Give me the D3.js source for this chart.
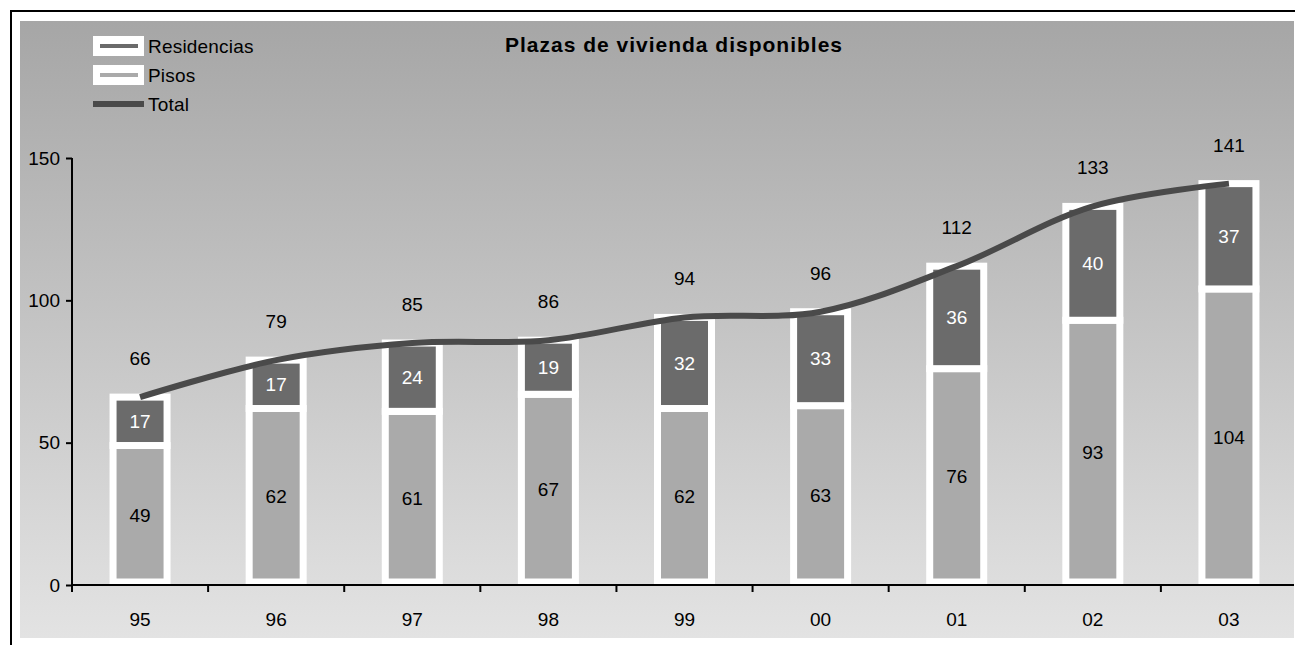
<!DOCTYPE html>
<html lang="es">
<head>
    <meta charset="UTF-8">
    <title>Plazas de vivienda disponibles</title>
    <script src="https://d3js.org/d3.v7.min.js"></script>
    <style>
        body {
            margin: 0;
            padding: 0;
            background: #fff;
            font-family: "Liberation Sans", Arial, sans-serif;
        }
        svg { display: block; }
    </style>
</head>
<body>
    <svg width="1295" height="645"></svg>
    <script>
        // datos
        const years = ["95", "96", "97", "98", "99", "00", "01", "02", "03"];
        const pisos = [49, 62, 61, 67, 62, 63, 76, 93, 104];
        const residencias = [17, 17, 24, 19, 32, 33, 36, 40, 37];
        const totals = [66, 79, 85, 86, 94, 96, 112, 133, 141];
        const yTicks = [0, 50, 100, 150];

        const svg = d3.select("svg");

        // fondo degradado
        const defs = svg.append("defs");
        const grad = defs.append("linearGradient")
            .attr("id", "bg")
            .attr("x1", 0).attr("y1", 0).attr("x2", 0).attr("y2", 1);
        grad.append("stop").attr("offset", "0%").attr("stop-color", "#a6a6a6");
        grad.append("stop").attr("offset", "100%").attr("stop-color", "#e3e3e3");

        svg.append("rect")
            .attr("x", 20).attr("y", 21)
            .attr("width", 1274).attr("height", 617)
            .attr("fill", "url(#bg)");

        // marco
        svg.append("path")
            .attr("d", "M11,645 V11 H1295")
            .attr("fill", "none")
            .attr("stroke", "#000")
            .attr("stroke-width", 2);

        const x = d3.scaleBand().domain(years).range([72, 1297]).padding(0);
        const y = d3.scaleLinear().domain([0, 150]).range([585, 158]);

        const barW = 54;
        const colRes = "#6b6b6b";
        const colPis = "#aaaaaa";
        const colTot = "#4a4a4a";

        // barras apiladas
        const bars = svg.append("g");
        years.forEach((yr, i) => {
            const cx = x(yr) + x.bandwidth() / 2;
            bars.append("rect")
                .attr("x", cx - barW / 2)
                .attr("y", y(pisos[i]))
                .attr("width", barW)
                .attr("height", y(0) - y(pisos[i]) - 3)
                .attr("fill", colPis)
                .attr("stroke", "#fff")
                .attr("stroke-width", 7);
            bars.append("rect")
                .attr("x", cx - barW / 2)
                .attr("y", y(totals[i]))
                .attr("width", barW)
                .attr("height", y(pisos[i]) - y(totals[i]))
                .attr("fill", colRes)
                .attr("stroke", "#fff")
                .attr("stroke-width", 7);
        });

        // ejes
        const xAxis = svg.append("g")
            .attr("transform", `translate(0,${y(0)})`)
            .call(d3.axisBottom(x).tickSize(0).tickFormat(""));
        xAxis.select(".domain").attr("stroke", "#000").attr("stroke-width", 2).attr("d", "M72,0H1294");
        // marcas entre categorias
        years.slice(1).forEach(yr => {
            svg.append("line")
                .attr("x1", x(yr)).attr("x2", x(yr))
                .attr("y1", y(0)).attr("y2", y(0) + 7)
                .attr("stroke", "#000").attr("stroke-width", 2);
        });
        years.forEach(yr => {
            svg.append("text")
                .attr("x", x(yr) + x.bandwidth() / 2)
                .attr("y", 626)
                .attr("text-anchor", "middle")
                .style("font-size", "19px")
                .text(yr);
        });

        const yAxis = svg.append("g")
            .attr("transform", "translate(72,0)")
            .call(d3.axisLeft(y).tickValues(yTicks).tickSize(6).tickPadding(6));
        yAxis.select(".domain").attr("stroke", "#000").attr("stroke-width", 2).attr("d", "M0,158V592");
        yAxis.selectAll(".tick line").attr("stroke", "#000").attr("stroke-width", 2);
        yAxis.selectAll(".tick text")
            .attr("fill", "#000")
            .style("font-size", "19px")
            .style("font-family", "'Liberation Sans', Arial, sans-serif");

        // linea total suavizada
        const line = d3.line()
            .x((d, i) => x(years[i]) + x.bandwidth() / 2)
            .y(d => y(d))
            .curve(d3.curveCatmullRom.alpha(0.5));
        svg.append("path")
            .datum(totals)
            .attr("d", line)
            .attr("fill", "none")
            .attr("stroke", colTot)
            .attr("stroke-width", 6);

        // etiquetas
        const labels = svg.append("g").style("font-size", "19px");
        years.forEach((yr, i) => {
            const cx = x(yr) + x.bandwidth() / 2;
            labels.append("text")
                .attr("x", cx)
                .attr("y", (y(0) + y(pisos[i])) / 2)
                .attr("dy", "0.35em")
                .attr("text-anchor", "middle")
                .attr("fill", "#000")
                .text(pisos[i]);
            labels.append("text")
                .attr("x", cx)
                .attr("y", (y(pisos[i]) + y(totals[i])) / 2)
                .attr("dy", "0.35em")
                .attr("text-anchor", "middle")
                .attr("fill", "#fff")
                .text(residencias[i]);
            labels.append("text")
                .attr("x", cx)
                .attr("y", y(totals[i]) - 32)
                .attr("text-anchor", "middle")
                .attr("fill", "#000")
                .text(totals[i]);
        });

        // titulo
        svg.append("text")
            .attr("x", 674)
            .attr("y", 52)
            .attr("text-anchor", "middle")
            .style("font-size", "21px")
            .style("font-weight", "bold")
            .style("letter-spacing", "1px")
            .text("Plazas de vivienda disponibles");

        // leyenda
        const legend = svg.append("g");
        const legItems = [
            { name: "Residencias", color: colRes, type: "bar" },
            { name: "Pisos", color: colPis, type: "bar" },
            { name: "Total", color: colTot, type: "line" }
        ];
        legItems.forEach((d, i) => {
            const cy = 46 + i * 29;
            if (d.type === "bar") {
                legend.append("rect")
                    .attr("x", 93).attr("y", cy - 10)
                    .attr("width", 51).attr("height", 20)
                    .attr("fill", "#fff");
                legend.append("line")
                    .attr("x1", 100).attr("x2", 138)
                    .attr("y1", cy).attr("y2", cy)
                    .attr("stroke", d.color).attr("stroke-width", 4);
            } else {
                legend.append("line")
                    .attr("x1", 93).attr("x2", 144)
                    .attr("y1", cy).attr("y2", cy)
                    .attr("stroke", d.color).attr("stroke-width", 6);
            }
            legend.append("text")
                .attr("x", 148)
                .attr("y", cy + 7)
                .style("font-size", "19px")
                .style("letter-spacing", "0.2px")
                .text(d.name);
        });
    </script>
</body>
</html>
